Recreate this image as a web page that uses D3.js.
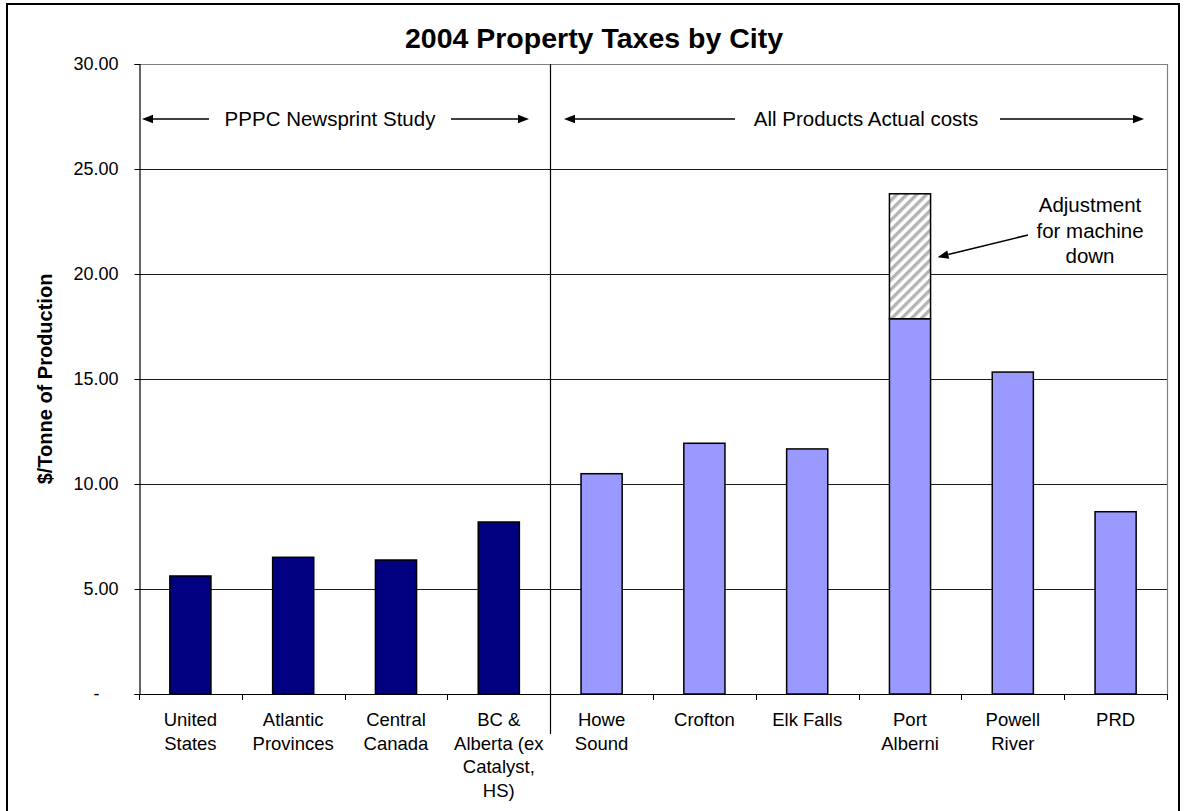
<!DOCTYPE html>
<html>
<head>
<meta charset="utf-8">
<script src="https://cdn.jsdelivr.net/npm/d3@7"></script>
<style>
  html, body { margin: 0; padding: 0; background: #fff; }
  svg { display: block; font-family: "Liberation Sans", Arial, sans-serif; }
</style>
</head>
<body>
<svg id="chart" width="1186" height="811"></svg>
<script>
// Property tax per tonne of production, 2004
const categories = ["United States", "Atlantic Provinces", "Central Canada", "BC & Alberta (ex Catalyst, HS)",
  "Howe Sound", "Crofton", "Elk Falls", "Port Alberni", "Powell River", "PRD"];
const labelLines = [["United", "States"], ["Atlantic", "Provinces"], ["Central", "Canada"],
  ["BC &", "Alberta (ex", "Catalyst,", "HS)"], ["Howe", "Sound"], ["Crofton"], ["Elk Falls"],
  ["Port", "Alberni"], ["Powell", "River"], ["PRD"]];
const groups = ["PPPC", "PPPC", "PPPC", "PPPC", "Actual", "Actual", "Actual", "Actual", "Actual", "Actual"];
const taxValues = [5.62, 6.51, 6.38, 8.19, 10.49, 11.94, 11.67, 17.87, 15.33, 8.68];
const adjustmentValues = [0, 0, 0, 0, 0, 0, 0, 5.95, 0, 0];
const yTicks = [0, 5, 10, 15, 20, 25, 30];

const svg = d3.select("#chart");
const plot = { left: 139, right: 1167, top: 64, bottom: 694 };

const x = d3.scaleBand().domain(categories).range([plot.left, plot.right]).padding(0);
const barFrac = 0.4;
const y = d3.scaleLinear().domain([0, 30]).range([plot.bottom, plot.top]);

const groupColor = { PPPC: "#000080", Actual: "#9999FF" };

// hatch for the machine-down adjustment
const defs = svg.append("defs");
const pat = defs.append("pattern")
  .attr("id", "hatch").attr("patternUnits", "userSpaceOnUse")
  .attr("width", 7).attr("height", 7)
  .attr("patternTransform", "rotate(45)");
pat.append("rect").attr("width", 7).attr("height", 7).attr("fill", "#fff");
pat.append("rect").attr("width", 3.4).attr("height", 7).attr("fill", "#b4b4b4");

// outer frame
svg.append("rect").attr("x", 7).attr("y", 4).attr("width", 1172).attr("height", 900)
  .attr("fill", "none").attr("stroke", "#000").attr("stroke-width", 2);

// title
svg.append("text").attr("x", 594).attr("y", 48).attr("text-anchor", "middle")
  .attr("font-size", 28.5).attr("font-weight", "bold").text("2004 Property Taxes by City");

// gridlines
svg.append("g").selectAll("line").data(yTicks.filter(d => d > 0 && d < 30)).join("line")
  .attr("x1", plot.left).attr("x2", plot.right)
  .attr("y1", d => Math.round(y(d)) + 0.5).attr("y2", d => Math.round(y(d)) + 0.5)
  .attr("stroke", "#1a1a1a").attr("stroke-width", 1);

// plot area top and right edges
svg.append("path")
  .attr("d", `M${plot.left},${plot.top + 0.5}H${plot.right + 0.5}V${plot.bottom}`)
  .attr("fill", "none").attr("stroke", "#808080").attr("stroke-width", 1.2);

// y axis
const yAxis = svg.append("g").attr("transform", `translate(${plot.left + 0.5},0)`)
  .call(d3.axisLeft(y).tickValues(yTicks).tickSize(5).tickPadding(16)
    .tickFormat(d => d === 0 ? "-" : d.toFixed(2)));
yAxis.select(".domain").attr("stroke", "#000").attr("stroke-width", 1.2);
yAxis.selectAll(".tick line").attr("stroke", "#000");
yAxis.selectAll(".tick text").attr("font-size", 18).attr("font-family", "Liberation Sans, Arial, sans-serif")
  .attr("fill", "#000");
yAxis.selectAll(".tick text").filter(d => d === 0).attr("dx", -19);

// y axis title
svg.append("text").attr("transform", `translate(52,${(plot.top + plot.bottom) / 2}) rotate(-90)`)
  .attr("text-anchor", "middle").attr("font-size", 20).attr("font-weight", "bold")
  .text("$/Tonne of Production");

// bars
const bars = svg.append("g");
bars.selectAll("rect.base").data(categories).join("rect").attr("class", "base")
  .attr("x", d => x(d) + x.bandwidth() * (1 - barFrac) / 2)
  .attr("width", x.bandwidth() * barFrac)
  .attr("y", (d, i) => y(taxValues[i]))
  .attr("height", (d, i) => y(0) - y(taxValues[i]))
  .attr("fill", (d, i) => groupColor[groups[i]])
  .attr("stroke", "#000").attr("stroke-width", 1.5);

bars.selectAll("rect.adj").data(categories.filter((d, i) => adjustmentValues[i] > 0)).join("rect")
  .attr("class", "adj")
  .attr("x", d => x(d) + x.bandwidth() * (1 - barFrac) / 2)
  .attr("width", x.bandwidth() * barFrac)
  .attr("y", d => { const i = categories.indexOf(d); return y(taxValues[i] + adjustmentValues[i]); })
  .attr("height", d => { const i = categories.indexOf(d); return y(taxValues[i]) - y(taxValues[i] + adjustmentValues[i]); })
  .attr("fill", "url(#hatch)")
  .attr("stroke", "#000").attr("stroke-width", 1.5);

// x axis line and tick marks at category boundaries
const boundaries = categories.map(d => x(d)).concat([plot.right]);
svg.append("line").attr("x1", plot.left).attr("x2", plot.right + 0.5)
  .attr("y1", plot.bottom + 0.5).attr("y2", plot.bottom + 0.5)
  .attr("stroke", "#000").attr("stroke-width", 1.2);
svg.append("g").selectAll("line").data(boundaries).join("line")
  .attr("x1", d => Math.round(d) + 0.5).attr("x2", d => Math.round(d) + 0.5)
  .attr("y1", plot.bottom).attr("y2", plot.bottom + 6)
  .attr("stroke", "#000").attr("stroke-width", 1);

// category labels
const lbl = svg.append("g").attr("font-size", 18.5).attr("text-anchor", "middle");
categories.forEach((c, i) => {
  const t = lbl.append("text").attr("x", x(c) + x.bandwidth() / 2).attr("y", 726);
  labelLines[i].forEach((s, k) => t.append("tspan").attr("x", x(c) + x.bandwidth() / 2)
    .attr("dy", k === 0 ? 0 : 23.5).text(s));
});

// divider between the study and actual-cost groups
const divX = Math.round(x("Howe Sound")) + 0.5;
svg.append("line").attr("x1", divX).attr("x2", divX).attr("y1", plot.top).attr("y2", 734)
  .attr("stroke", "#000").attr("stroke-width", 1.2);

// arrow helper
function arrow(x1, y1, x2, y2) {
  const ang = Math.atan2(y2 - y1, x2 - x1);
  const L = 11, W = 4.2;
  const bx = x2 - L * Math.cos(ang), by = y2 - L * Math.sin(ang);
  svg.append("line").attr("x1", x1).attr("y1", y1).attr("x2", bx).attr("y2", by)
    .attr("stroke", "#000").attr("stroke-width", 1.6);
  svg.append("path").attr("d",
    `M${x2},${y2}L${bx - W * Math.sin(ang)},${by + W * Math.cos(ang)}L${bx + W * Math.sin(ang)},${by - W * Math.cos(ang)}Z`)
    .attr("fill", "#000");
}

// group headers
const rowY = 119;
svg.append("text").attr("x", 330).attr("y", rowY + 7).attr("text-anchor", "middle")
  .attr("font-size", 20.5).text("PPPC Newsprint Study");
arrow(209, rowY, 142, rowY);
arrow(451, rowY, 529, rowY);

svg.append("text").attr("x", 866).attr("y", rowY + 7).attr("text-anchor", "middle")
  .attr("font-size", 20.5).text("All Products Actual costs");
arrow(735, rowY, 564, rowY);
arrow(1000, rowY, 1144, rowY);

// adjustment note
const note = svg.append("text").attr("text-anchor", "middle").attr("font-size", 20.5);
["Adjustment", "for machine", "down"].forEach((s, k) =>
  note.append("tspan").attr("x", 1090).attr("y", 212 + k * 25.5).text(s));
const paRight = x("Port Alberni") + x.bandwidth() * (1 + barFrac) / 2;
arrow(1028, 235, paRight + 7, y(20.8));
</script>
</body>
</html>
